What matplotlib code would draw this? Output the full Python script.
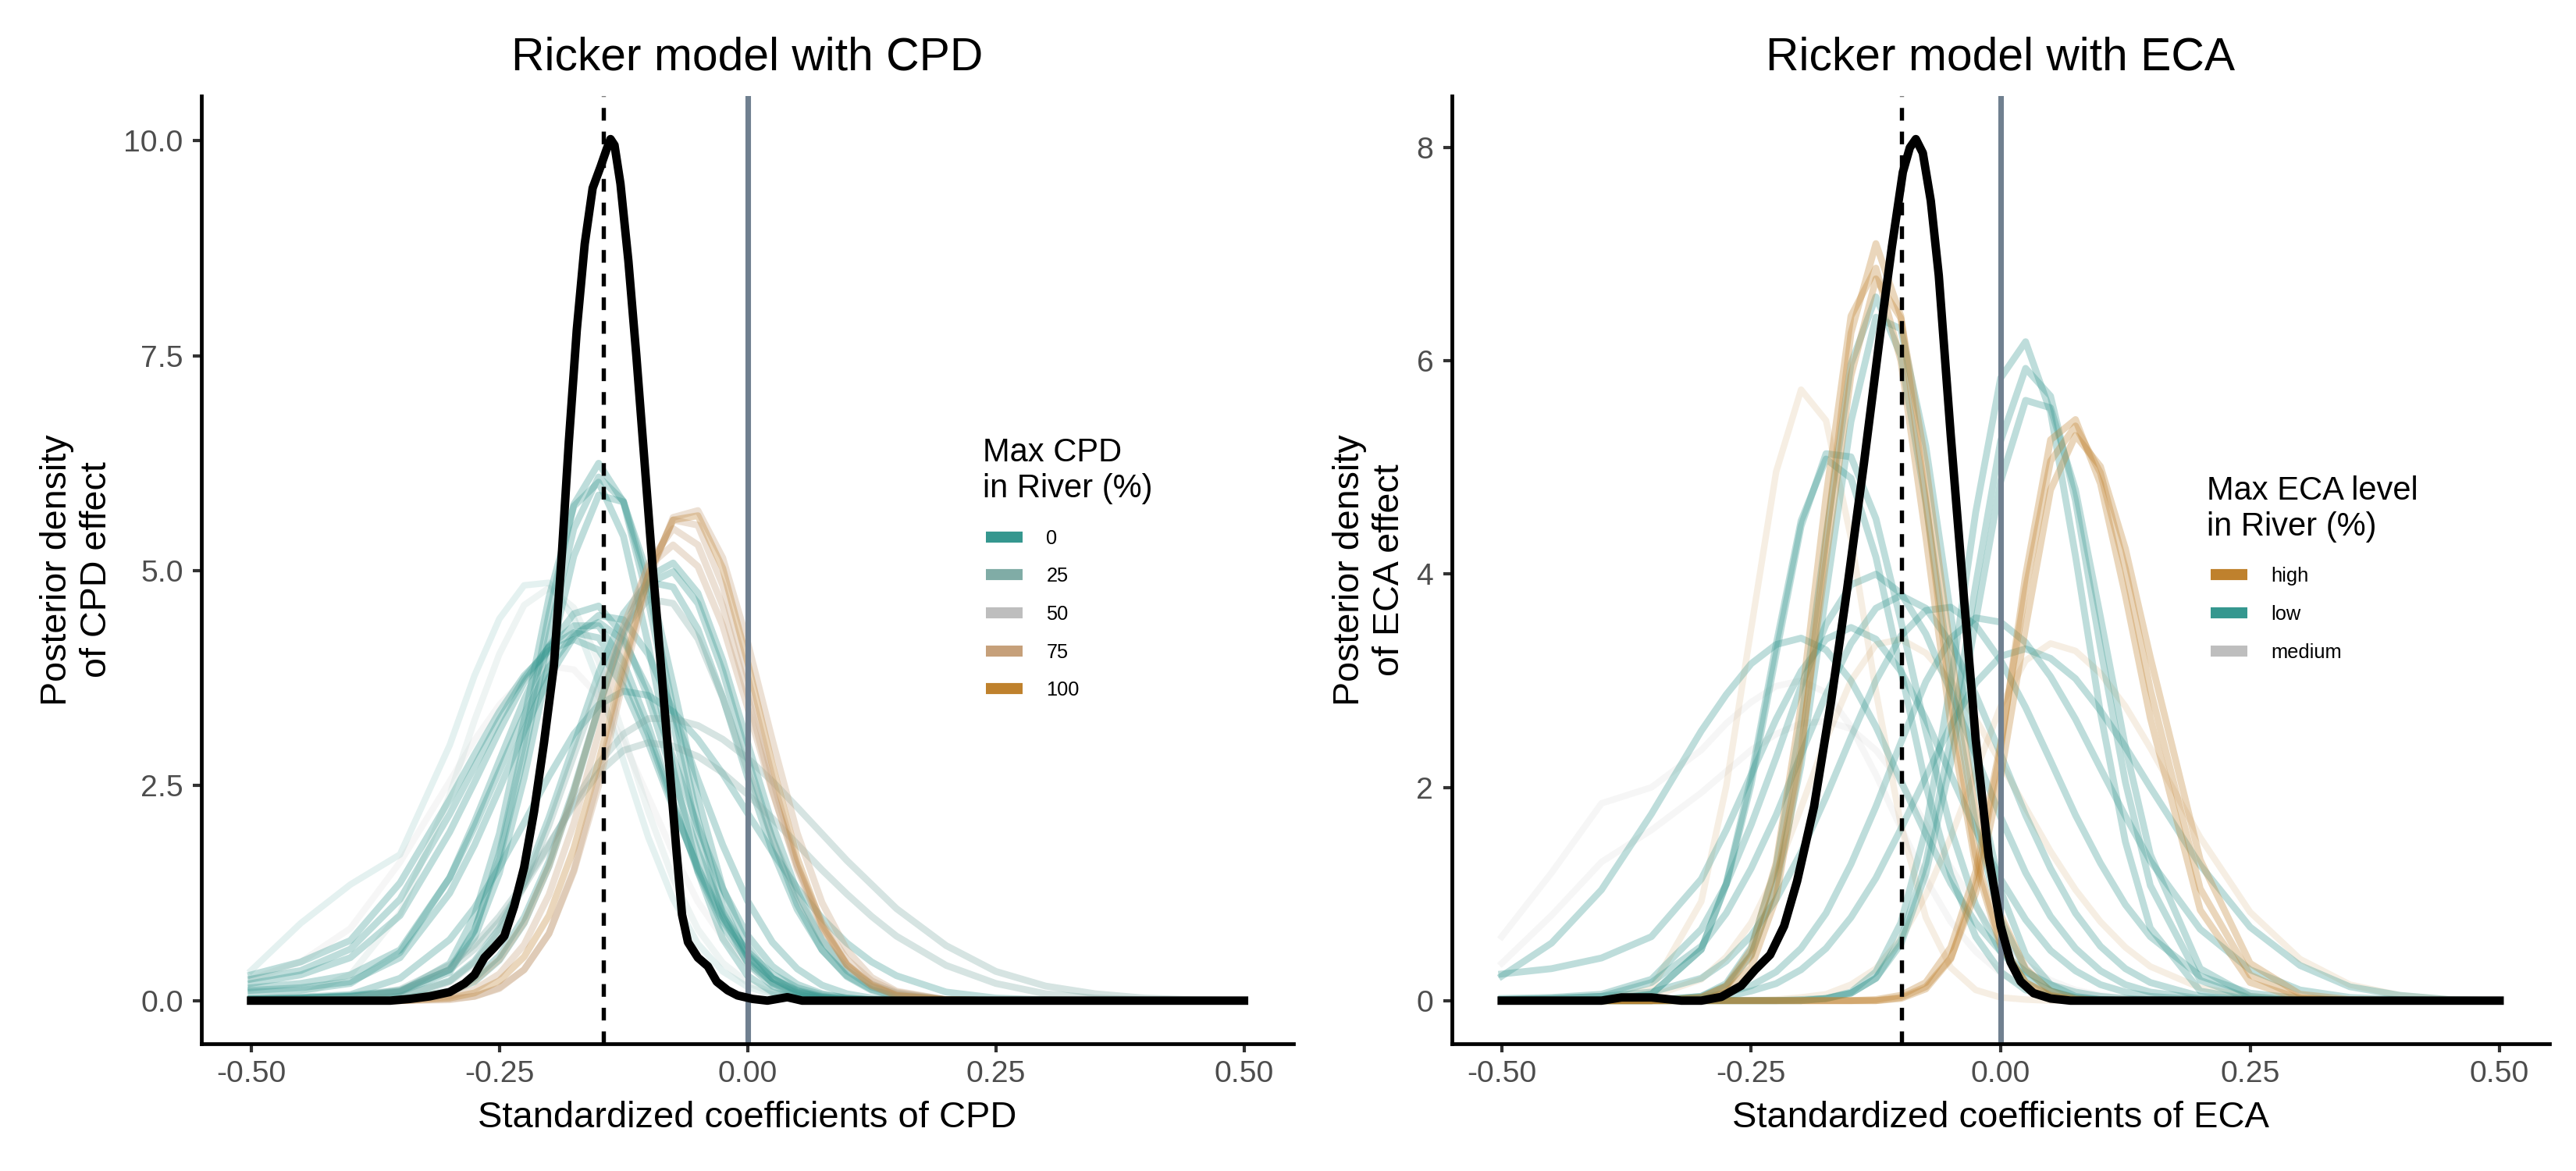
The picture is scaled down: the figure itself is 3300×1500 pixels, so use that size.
"""Posterior density curves per river: Ricker model with CPD / ECA"""

import matplotlib

matplotlib.use("Agg")
import matplotlib.pyplot as plt
from matplotlib.lines import Line2D

plt.rcParams["font.family"] = ["Liberation Sans", "DejaVu Sans"]
plt.rcParams["axes.unicode_minus"] = False

# ── shared x grid for the per-river density curves ──
x_grid = [-0.5, -0.45, -0.4, -0.35, -0.3, -0.275, -0.25, -0.225, -0.2, -0.175,
          -0.15, -0.125, -0.1, -0.075, -0.05, -0.025, 0.0, 0.025, 0.05, 0.075,
          0.1, 0.125, 0.15, 0.2, 0.25, 0.3, 0.35, 0.4, 0.45, 0.5]

# ═════════════════════════════════════════
# CPD panel data
# ═════════════════════════════════════════
cpd_levels = ["0", "25", "50", "75", "100"]
cpd_colors = {"0": "#35978f", "25": "#80aca6", "50": "#bebebe",
              "75": "#c6a07a", "100": "#bf812d"}

cpd_0_a = [0.01, 0.02, 0.04, 0.1, 0.33, 0.81, 1.71, 3.0, 4.5, 5.77, 6.25, 5.8, 4.65, 3.22, 1.91,
           0.99, 0.43, 0.17, 0.06, 0.02, 0.01, 0, 0, 0, 0, 0, 0, 0, 0, 0]
cpd_0_b = [0.02, 0.03, 0.06, 0.12, 0.36, 0.73, 1.48, 2.59, 3.93, 5.17, 5.88, 5.8, 4.94, 3.68, 2.36,
           1.31, 0.63, 0.26, 0.1, 0.03, 0.01, 0, 0, 0, 0, 0, 0, 0, 0, 0]
cpd_0_c = [0.2, 0.3, 0.5, 0.99, 1.96, 2.54, 3.14, 3.7, 4.12, 4.36, 4.36, 3.94, 3.2, 2.32, 1.5,
           0.87, 0.45, 0.21, 0.09, 0.04, 0.02, 0.01, 0, 0, 0, 0, 0, 0, 0, 0]
cpd_0_d = [0.3, 0.45, 0.7, 1.37, 2.34, 2.86, 3.36, 3.78, 4.07, 4.2, 4.08, 3.65, 3.0, 2.24, 1.55,
           0.97, 0.57, 0.31, 0.15, 0.07, 0.03, 0.01, 0, 0, 0, 0, 0, 0, 0, 0]
cpd_0_e = [0.12, 0.15, 0.22, 0.5, 1.25, 1.81, 2.46, 3.14, 3.76, 4.23, 4.48, 4.43, 4.03, 3.37, 2.57,
           1.81, 1.16, 0.68, 0.37, 0.18, 0.08, 0.03, 0.01, 0, 0, 0, 0, 0, 0, 0]
cpd_0_f = [0, 0, 0.01, 0.02, 0.11, 0.26, 0.52, 0.97, 1.62, 2.46, 3.41, 4.27, 4.85, 4.99, 4.62,
           3.83, 2.82, 1.88, 1.12, 0.59, 0.28, 0.12, 0.05, 0.01, 0, 0, 0, 0, 0, 0]
cpd_0_g = [0.35, 0.9, 1.35, 1.7, 2.97, 3.78, 4.44, 4.83, 4.86, 4.45, 3.7, 2.79, 1.9, 1.18, 0.66,
           0.34, 0.16, 0.07, 0.03, 0.01, 0, 0, 0, 0, 0, 0, 0, 0, 0, 0]
cpd_0_h = [0.02, 0.04, 0.07, 0.26, 0.71, 1.08, 1.55, 2.07, 2.61, 3.1, 3.44, 3.6, 3.55, 3.36, 3.04,
           2.64, 2.18, 1.73, 1.31, 0.96, 0.67, 0.45, 0.29, 0.1, 0.03, 0.01, 0, 0, 0, 0]
cpd_0_i = [0.02, 0.03, 0.05, 0.1, 0.43, 0.99, 1.94, 3.27, 4.69, 5.75, 6.03, 5.4, 4.14, 2.7, 1.5,
           0.72, 0.29, 0.1, 0.03, 0.01, 0, 0, 0, 0, 0, 0, 0, 0, 0, 0]
cpd_0_j = [0.02, 0.03, 0.05, 0.11, 0.36, 0.82, 1.65, 2.86, 4.25, 5.49, 6.09, 5.81, 4.81, 3.4, 2.1,
           1.1, 0.51, 0.2, 0.07, 0.02, 0.01, 0, 0, 0, 0, 0, 0, 0, 0, 0]
cpd_0_k = [0.15, 0.2, 0.3, 0.59, 1.43, 2.02, 2.67, 3.32, 3.88, 4.26, 4.4, 4.19, 3.62, 2.83, 2.02,
           1.3, 0.76, 0.4, 0.19, 0.08, 0.03, 0.01, 0, 0, 0, 0, 0, 0, 0, 0]
cpd_0_l = [0.25, 0.35, 0.6, 1.18, 2.17, 2.72, 3.27, 3.75, 4.11, 4.28, 4.22, 3.79, 3.1, 2.28, 1.53,
           0.93, 0.52, 0.26, 0.12, 0.05, 0.02, 0.01, 0, 0, 0, 0, 0, 0, 0, 0]
cpd_0_m = [0.1, 0.12, 0.2, 0.56, 1.43, 2.08, 2.79, 3.5, 4.12, 4.5, 4.59, 4.25, 3.52, 2.6, 1.73,
           1.03, 0.54, 0.26, 0.11, 0.04, 0.01, 0, 0, 0, 0, 0, 0, 0, 0, 0]
cpd_0_n = [0, 0, 0.01, 0.05, 0.23, 0.46, 0.84, 1.38, 2.13, 2.97, 3.81, 4.5, 4.87, 4.81, 4.32,
           3.53, 2.6, 1.74, 1.06, 0.59, 0.29, 0.13, 0.05, 0.01, 0, 0, 0, 0, 0, 0]
cpd_0_o = [0, 0, 0, 0.01, 0.1, 0.22, 0.47, 0.9, 1.56, 2.42, 3.4, 4.31, 4.93, 5.09, 4.74,
           3.96, 3.0, 2.05, 1.27, 0.7, 0.35, 0.16, 0.07, 0.01, 0, 0, 0, 0, 0, 0]
cpd_25_a = [0.01, 0.01, 0.03, 0.11, 0.36, 0.6, 0.92, 1.33, 1.8, 2.3, 2.76, 3.1, 3.28, 3.28, 3.2,
            3.04, 2.82, 2.55, 2.25, 1.94, 1.63, 1.35, 1.07, 0.64, 0.34, 0.17, 0.08, 0.03, 0.01, 0]
cpd_25_b = [0.02, 0.06, 0.3, 1.02, 2.39, 3.26, 4.03, 4.6, 4.8, 4.57, 3.95, 3.09, 2.2, 1.42, 0.83,
            0.44, 0.21, 0.09, 0.04, 0.01, 0, 0, 0, 0, 0, 0, 0, 0, 0, 0]
cpd_25_c = [0, 0, 0.01, 0.04, 0.22, 0.44, 0.8, 1.33, 2.04, 2.85, 3.65, 4.32, 4.67, 4.62, 4.21,
            3.52, 2.68, 1.89, 1.21, 0.71, 0.38, 0.19, 0.09, 0.01, 0, 0, 0, 0, 0, 0]
cpd_25_d = [0, 0.01, 0.03, 0.13, 0.41, 0.65, 0.98, 1.37, 1.82, 2.27, 2.65, 2.91, 3.0, 2.96, 2.84,
            2.65, 2.4, 2.12, 1.82, 1.52, 1.24, 0.98, 0.75, 0.41, 0.2, 0.08, 0.03, 0.01, 0, 0]
cpd_50_a = [0.25, 0.45, 0.84, 1.61, 2.55, 3.03, 3.44, 3.74, 3.89, 3.85, 3.54, 3.01, 2.37, 1.72, 1.15,
            0.73, 0.42, 0.22, 0.11, 0.05, 0.02, 0.01, 0, 0, 0, 0, 0, 0, 0, 0]
cpd_75_a = [0, 0, 0, 0, 0.01, 0.05, 0.14, 0.36, 0.78, 1.52, 2.59, 3.83, 4.96, 5.59, 5.53,
            4.83, 3.77, 2.59, 1.57, 0.86, 0.41, 0.17, 0.06, 0.01, 0, 0, 0, 0, 0, 0]
cpd_75_b = [0, 0, 0, 0.01, 0.1, 0.23, 0.48, 0.91, 1.57, 2.43, 3.41, 4.36, 5.05, 5.3, 5.05,
            4.36, 3.41, 2.43, 1.57, 0.91, 0.48, 0.23, 0.1, 0.01, 0, 0, 0, 0, 0, 0]
cpd_75_c = [0, 0, 0, 0, 0.05, 0.13, 0.31, 0.65, 1.23, 2.06, 3.11, 4.21, 5.08, 5.49, 5.3,
            4.59, 3.56, 2.45, 1.53, 0.85, 0.42, 0.19, 0.08, 0.01, 0, 0, 0, 0, 0, 0]
cpd_75_d = [0, 0, 0, 0, 0.02, 0.05, 0.15, 0.36, 0.78, 1.5, 2.5, 3.73, 4.89, 5.62, 5.7,
            5.15, 4.17, 3.03, 1.95, 1.14, 0.59, 0.27, 0.11, 0.01, 0, 0, 0, 0, 0, 0]
cpd_100_a = [0, 0, 0, 0, 0.03, 0.09, 0.23, 0.51, 0.99, 1.77, 2.78, 3.9, 4.95, 5.59, 5.64,
             5.03, 3.94, 2.74, 1.66, 0.88, 0.42, 0.18, 0.06, 0.01, 0, 0, 0, 0, 0, 0]

# bundles of many overlapping rivers (drawn stronger) and stray single curves (fainter)
cpd_curves = [("0", cpd_0_a), ("0", cpd_0_b), ("0", cpd_0_c), ("0", cpd_0_d),
              ("0", cpd_0_e), ("0", cpd_0_f), ("0", cpd_0_h), ("0", cpd_0_i),
              ("0", cpd_0_j), ("0", cpd_0_k), ("0", cpd_0_l), ("0", cpd_0_m),
              ("0", cpd_0_n), ("0", cpd_0_o), ("25", cpd_25_a), ("25", cpd_25_c),
              ("25", cpd_25_d),
              ("75", cpd_75_a), ("75", cpd_75_b), ("75", cpd_75_c), ("75", cpd_75_d),
              ("100", cpd_100_a)]
cpd_faint = [("0", cpd_0_g), ("25", cpd_25_b), ("50", cpd_50_a)]

# pooled posterior (black)
cpd_total_x = [-0.5, -0.36, -0.34, -0.32, -0.3, -0.285, -0.275, -0.265, -0.255, -0.245,
               -0.235, -0.225, -0.215, -0.205, -0.195, -0.187, -0.18, -0.172, -0.164, -0.156,
               -0.148, -0.142, -0.138, -0.134, -0.128, -0.12, -0.112, -0.104, -0.096, -0.088,
               -0.08, -0.072, -0.066, -0.06, -0.05, -0.04, -0.031, -0.02, -0.01, 0.005,
               0.02, 0.04, 0.055, 0.5]
cpd_total_y = [0, 0, 0.02, 0.05, 0.1, 0.2, 0.3, 0.5, 0.62, 0.75,
               1.1, 1.55, 2.2, 3.0, 3.9, 5.2, 6.5, 7.8, 8.8, 9.45,
               9.7, 9.9, 10.02, 9.95, 9.5, 8.6, 7.5, 6.3, 5.1, 4.0,
               2.9, 1.8, 1.0, 0.68, 0.5, 0.4, 0.22, 0.12, 0.06, 0.02,
               0.0, 0.04, 0.0, 0]
cpd_mean = -0.145

# ═════════════════════════════════════════
# ECA panel data
# ═════════════════════════════════════════
eca_levels = ["high", "low", "medium"]
eca_colors = {"high": "#bf812d", "low": "#35978f", "medium": "#bebebe"}

eca_high_a = [0, 0, 0, 0, 0, 0.08, 0.31, 0.96, 2.31, 4.31, 6.26, 7.1, 6.42, 4.69, 2.81,
              1.36, 0.54, 0.17, 0.04, 0.01, 0, 0, 0, 0, 0, 0, 0, 0, 0, 0]
eca_high_b = [0, 0, 0, 0, 0.03, 0.13, 0.42, 1.1, 2.37, 4.13, 5.86, 6.77, 6.4, 5.03, 3.27,
              1.77, 0.8, 0.3, 0.09, 0.02, 0, 0, 0, 0, 0, 0, 0, 0, 0, 0]
eca_high_c = [0, 0, 0, 0, 0, 0, 0, 0, 0, 0, 0, 0.01, 0.05, 0.17, 0.5,
              1.21, 2.41, 3.86, 5.06, 5.39, 4.95, 4.05, 2.92, 1.05, 0.24, 0.03, 0, 0, 0, 0]
eca_high_d = [0, 0, 0, 0, 0, 0, 0, 0, 0, 0, 0, 0, 0.02, 0.11, 0.39,
              1.09, 2.36, 3.99, 5.26, 5.45, 4.85, 3.8, 2.65, 0.85, 0.17, 0.02, 0, 0, 0, 0]
eca_high_e = [0, 0, 0.01, 0.11, 0.93, 2.01, 3.49, 4.96, 5.73, 5.44, 4.34, 2.9, 1.65, 0.78, 0.31,
              0.1, 0.03, 0.01, 0, 0, 0, 0, 0, 0, 0, 0, 0, 0, 0, 0]
eca_high_f = [0, 0, 0, 0, 0, 0, 0, 0.01, 0.03, 0.06, 0.15, 0.3, 0.58, 0.99, 1.53,
              2.15, 2.76, 3.19, 3.35, 3.28, 3.07, 2.76, 2.37, 1.53, 0.83, 0.39, 0.15, 0.05, 0.01, 0]
eca_high_g = [0, 0, 0.01, 0.04, 0.2, 0.41, 0.73, 1.2, 1.81, 2.45, 3.0, 3.34, 3.39, 3.26, 3.0,
              2.64, 2.23, 1.81, 1.4, 1.04, 0.74, 0.5, 0.32, 0.12, 0.04, 0.01, 0, 0, 0, 0]
eca_high_h = [0, 0, 0, 0, 0, 0, 0, 0, 0, 0, 0, 0, 0.03, 0.13, 0.4,
              1.01, 2.1, 3.5, 4.79, 5.3, 5.01, 4.24, 3.22, 1.32, 0.35, 0.06, 0.01, 0, 0, 0]
eca_high_i = [0, 0, 0, 0, 0.03, 0.14, 0.48, 1.29, 2.77, 4.73, 6.42, 6.87, 6.0, 4.35, 2.59,
              1.27, 0.51, 0.17, 0.05, 0.01, 0, 0, 0, 0, 0, 0, 0, 0, 0, 0]
eca_low_a = [0, 0, 0, 0, 0.04, 0.14, 0.43, 1.07, 2.21, 3.82, 5.43, 6.41, 6.3, 5.2, 3.62,
             2.11, 1.03, 0.43, 0.15, 0.04, 0.01, 0, 0, 0, 0, 0, 0, 0, 0, 0]
eca_low_b = [0, 0, 0, 0, 0, 0, 0, 0, 0.01, 0.02, 0.07, 0.21, 0.57, 1.29, 2.46,
             3.9, 5.25, 5.93, 5.67, 4.69, 3.31, 2.05, 1.08, 0.19, 0.02, 0, 0, 0, 0, 0]
eca_low_c = [0, 0, 0, 0, 0, 0, 0, 0, 0, 0.02, 0.08, 0.27, 0.73, 1.61, 2.98,
             4.58, 5.84, 6.18, 5.52, 4.17, 2.7, 1.49, 0.68, 0.09, 0.01, 0, 0, 0, 0, 0]
eca_low_d = [0, 0, 0.01, 0.06, 0.48, 1.1, 2.1, 3.34, 4.5, 5.08, 4.9, 4.16, 3.1, 2.02, 1.18,
             0.6, 0.27, 0.1, 0.04, 0.01, 0, 0, 0, 0, 0, 0, 0, 0, 0, 0]
eca_low_e = [0.02, 0.03, 0.06, 0.2, 0.67, 1.09, 1.65, 2.28, 2.95, 3.53, 3.9, 4.0, 3.82, 3.44, 2.9,
             2.3, 1.72, 1.2, 0.79, 0.49, 0.28, 0.15, 0.08, 0.02, 0, 0, 0, 0, 0, 0]
eca_low_f = [0.01, 0.02, 0.04, 0.08, 0.21, 0.37, 0.61, 0.95, 1.39, 1.91, 2.47, 3.0, 3.42, 3.66, 3.69,
             3.52, 3.19, 2.75, 2.25, 1.74, 1.29, 0.9, 0.6, 0.23, 0.07, 0.02, 0, 0, 0, 0]
eca_low_g = [0.25, 0.3, 0.4, 0.6, 1.14, 1.6, 2.12, 2.64, 3.09, 3.39, 3.5, 3.39, 3.09, 2.64, 2.12,
             1.6, 1.14, 0.76, 0.47, 0.28, 0.15, 0.08, 0.04, 0.01, 0, 0, 0, 0, 0, 0]
eca_low_h = [0, 0, 0, 0.01, 0.03, 0.07, 0.14, 0.27, 0.49, 0.82, 1.28, 1.82, 2.42, 2.99, 3.4,
             3.59, 3.55, 3.36, 3.04, 2.64, 2.18, 1.73, 1.31, 0.67, 0.29, 0.1, 0.03, 0.01, 0, 0]
eca_low_i = [0.23, 0.54, 1.04, 1.75, 2.53, 2.87, 3.16, 3.34, 3.4, 3.29, 3.0, 2.57, 2.06, 1.56, 1.1,
             0.73, 0.46, 0.27, 0.15, 0.08, 0.04, 0.02, 0.01, 0, 0, 0, 0, 0, 0, 0]
eca_low_j = [0, 0, 0, 0, 0, 0, 0, 0, 0, 0.02, 0.07, 0.21, 0.53, 1.19, 2.23,
             3.56, 4.87, 5.63, 5.56, 4.79, 3.6, 2.38, 1.37, 0.3, 0.04, 0, 0, 0, 0, 0]
eca_low_k = [0, 0, 0, 0, 0.04, 0.16, 0.5, 1.26, 2.61, 4.36, 5.97, 6.6, 6.05, 4.67, 3.02,
             1.64, 0.76, 0.29, 0.09, 0.02, 0, 0, 0, 0, 0, 0, 0, 0, 0, 0]
eca_low_l = [0, 0, 0, 0.06, 0.48, 1.09, 2.03, 3.25, 4.45, 5.13, 5.1, 4.52, 3.56, 2.53, 1.61,
             0.9, 0.46, 0.21, 0.09, 0.03, 0.01, 0, 0, 0, 0, 0, 0, 0, 0, 0]
eca_low_m = [0.01, 0.02, 0.04, 0.17, 0.51, 0.82, 1.24, 1.74, 2.31, 2.87, 3.35, 3.68, 3.8, 3.68, 3.35,
             2.87, 2.31, 1.74, 1.24, 0.82, 0.51, 0.3, 0.17, 0.04, 0.01, 0, 0, 0, 0, 0]
eca_low_n = [0, 0, 0, 0.01, 0.02, 0.04, 0.09, 0.16, 0.29, 0.49, 0.78, 1.15, 1.61, 2.1, 2.58,
             2.98, 3.23, 3.3, 3.21, 3.02, 2.72, 2.38, 2.0, 1.27, 0.69, 0.33, 0.13, 0.05, 0.01, 0]
eca_medium_a = [0.6, 1.2, 1.85, 2.0, 2.35, 2.6, 2.8, 2.95, 3.0, 2.89, 2.57, 2.12, 1.62, 1.14, 0.74,
                0.46, 0.26, 0.13, 0.06, 0.03, 0.01, 0, 0, 0, 0, 0, 0, 0, 0, 0]
eca_medium_b = [0.35, 0.8, 1.3, 1.6, 1.95, 2.15, 2.35, 2.5, 2.6, 2.62, 2.55, 2.35, 2.05, 1.65, 1.25,
                0.88, 0.57, 0.34, 0.19, 0.1, 0.05, 0.02, 0.01, 0, 0, 0, 0, 0, 0, 0]

eca_curves = [("low", eca_low_a), ("low", eca_low_b), ("low", eca_low_c), ("low", eca_low_d),
              ("low", eca_low_e), ("low", eca_low_f), ("low", eca_low_g), ("low", eca_low_h),
              ("low", eca_low_i), ("low", eca_low_j), ("low", eca_low_k), ("low", eca_low_l),
              ("low", eca_low_m), ("low", eca_low_n),
              ("high", eca_high_a), ("high", eca_high_b), ("high", eca_high_c),
              ("high", eca_high_d), ("high", eca_high_h), ("high", eca_high_i)]
eca_faint = [("medium", eca_medium_a), ("medium", eca_medium_b), ("high", eca_high_e),
             ("high", eca_high_f), ("high", eca_high_g)]

eca_total_x = [-0.5, -0.4, -0.38, -0.35, -0.32, -0.3, -0.28, -0.26, -0.246, -0.231,
               -0.217, -0.204, -0.187, -0.17, -0.154, -0.137, -0.121, -0.109, -0.098, -0.091,
               -0.085, -0.078, -0.07, -0.062, -0.05, -0.037, -0.025, -0.012, 0.0, 0.01,
               0.02, 0.033, 0.05, 0.07, 0.5]
eca_total_y = [0, 0, 0.03, 0.03, 0.0, 0.0, 0.035, 0.14, 0.29, 0.43,
               0.7, 1.12, 1.82, 2.8, 3.85, 5.04, 6.23, 7.07, 7.77, 8.0,
               8.08, 7.95, 7.5, 6.8, 5.3, 3.8, 2.45, 1.35, 0.7, 0.36,
               0.18, 0.07, 0.02, 0, 0]
eca_mean = -0.099

x_ticks = [-0.5, -0.25, 0.0, 0.25, 0.5]
cpd_y_ticks = [0, 2.5, 5.0, 7.5, 10.0]
eca_y_ticks = [0, 2, 4, 6, 8]

# ── style ──
TICK_GREY = "#4d4d4d"
ZERO_LINE = "#708090"


def draw_panel(ax, curves, faint, colors, levels, total_x, total_y, mean_x, y_ticks, y_fmt,
               title, xlabel, ylabel, legend_title, title_xy, legend_xy):
    for level, ys in faint:
        ax.plot(x_grid, ys, color=colors[level], lw=2.0, alpha=0.13,
                solid_joinstyle="round", zorder=1)
    for level, ys in curves:
        ax.plot(x_grid, ys, color=colors[level], lw=2.1, alpha=0.32,
                solid_joinstyle="round", zorder=1)
    ax.axvline(0, color=ZERO_LINE, lw=1.7, zorder=2)
    ax.axvline(mean_x, color="black", lw=1.3, dashes=(3, 2.6), zorder=3)
    ax.plot(total_x, total_y, color="black", lw=2.6, solid_joinstyle="round", zorder=4)

    # ggplot-style 5% expansion
    top = max(max(total_y), max(max(ys) for _, ys in curves + faint))
    ax.set_ylim(-0.05 * top, 1.05 * top)
    ax.set_xlim(-0.55, 0.55)

    ax.set_xticks(x_ticks)
    ax.set_xticklabels([f"{t:.2f}" for t in x_ticks])
    ax.set_yticks(y_ticks)
    ax.set_yticklabels([y_fmt.format(t) for t in y_ticks])

    ax.spines["top"].set_visible(False)
    ax.spines["right"].set_visible(False)
    for s in ("left", "bottom"):
        ax.spines[s].set_linewidth(1.15)
    ax.tick_params(length=2.75, width=1.0, color="#333333", labelcolor=TICK_GREY,
                   labelsize=9.4)
    ax.tick_params(axis="x", pad=2.2)
    ax.tick_params(axis="y", pad=2.9)

    ax.set_title(title, fontsize=14.1, pad=8)
    ax.set_xlabel(xlabel, fontsize=11.3, labelpad=4)
    ax.set_ylabel(ylabel, fontsize=11.2, labelpad=3)

    # legend: title as text, keys as a title-less legend below it
    ax.text(title_xy[0], title_xy[1], legend_title, transform=ax.transAxes,
            fontsize=10, ha="left", va="top", linespacing=1.2)
    handles = [Line2D([], [], color=colors[k], lw=3.4, solid_capstyle="butt") for k in levels]
    ax.legend(handles, levels, loc="center left", bbox_to_anchor=legend_xy,
              frameon=False, fontsize=6.1, handlelength=1.85, handletextpad=1.18,
              labelspacing=0.97, borderpad=0, borderaxespad=0)


fig = plt.figure(figsize=(11, 5), dpi=300, facecolor="white")
ax1 = fig.add_axes([0.0782, 0.1087, 0.4240, 0.8093])
ax2 = fig.add_axes([0.5636, 0.1087, 0.4261, 0.8093])

draw_panel(ax1, cpd_curves, cpd_faint, cpd_colors, cpd_levels, cpd_total_x, cpd_total_y,
           cpd_mean, cpd_y_ticks, "{:.1f}", "Ricker model with CPD",
           "Standardized coefficients of CPD", "Posterior density\nof CPD effect",
           "Max CPD\nin River (%)", (0.7155, 0.640), (0.7184, 0.453))
draw_panel(ax2, eca_curves, eca_faint, eca_colors, eca_levels, eca_total_x, eca_total_y,
           eca_mean, eca_y_ticks, "{:d}", "Ricker model with ECA",
           "Standardized coefficients of ECA", "Posterior density\nof ECA effect",
           "Max ECA level\nin River (%)", (0.6878, 0.600), (0.6913, 0.453))

fig.savefig("out.png", dpi=300, facecolor="white")
plt.close(fig)
